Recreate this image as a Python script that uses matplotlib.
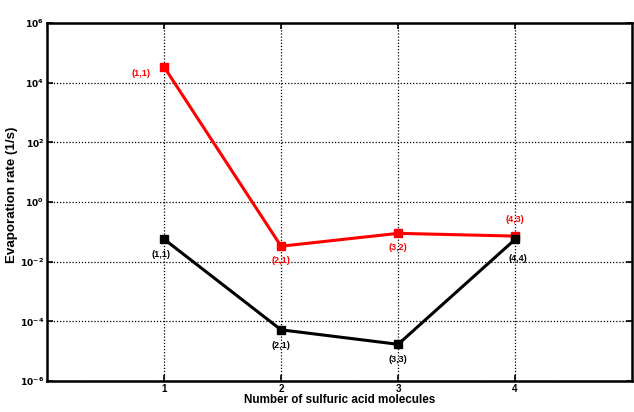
import matplotlib
matplotlib.use("Agg")
import matplotlib.pyplot as plt
from matplotlib.ticker import NullLocator, FixedFormatter

plt.rcParams["font.family"] = ["Liberation Sans", "DejaVu Sans"]
plt.rcParams["font.weight"] = "bold"

# Evaporation rates (1/s) versus number of sulfuric acid molecules
n_acid = [1, 2, 3, 4]
rate_red = [3.4e4, 0.033, 0.089, 0.072]
labels_red = ["(1,1)", "(2,1)", "(3,2)", "(4,3)"]
rate_black = [0.057, 5.2e-5, 1.7e-5, 0.056]
labels_black = ["(1,1)", "(2,1)", "(3,3)", "(4,4)"]

ytick_vals = [1e-6, 1e-4, 1e-2, 1e0, 1e2, 1e4, 1e6]
ytick_labels = [r"$\mathbf{10^{-6}}$", r"$\mathbf{10^{-4}}$", r"$\mathbf{10^{-2}}$",
                r"$\mathbf{10^{0}}$", r"$\mathbf{10^{2}}$", r"$\mathbf{10^{4}}$",
                r"$\mathbf{10^{6}}$"]

fig = plt.figure(figsize=(6.34, 4.12), dpi=100)
ax = fig.add_axes([0.0741, 0.0752, 0.923, 0.869])

ax.plot(n_acid, rate_red, color="red", lw=2.2, marker="s", ms=5.5, zorder=4)
ax.plot(n_acid, rate_black, color="black", lw=2.2, marker="s", ms=5.5, zorder=4)

# point labels: (dx, dy) offsets in points
red_offsets = [(-10, -5), (0, -10), (0, -10), (0, 12)]
red_ha = ["right", "center", "center", "center"]
for x, y, s, (dx, dy), ha in zip(n_acid, rate_red, labels_red, red_offsets, red_ha):
    ax.annotate(s, (x, y), xytext=(dx, dy), textcoords="offset points",
                ha=ha, va="center", color="red", fontsize=6.5, fontweight="bold")

black_offsets = [(-2, -11), (0, -11), (0, -11), (2, -14)]
for x, y, s, (dx, dy) in zip(n_acid, rate_black, labels_black, black_offsets):
    ax.annotate(s, (x, y), xytext=(dx, dy), textcoords="offset points",
                ha="center", va="center", color="black", fontsize=6.5, fontweight="bold")

ax.set_yscale("log")
ax.set_ylim(1e-6, 1e6)
ax.set_xlim(0, 5)
ax.set_yticks(ytick_vals)
ax.yaxis.set_major_formatter(FixedFormatter(ytick_labels))
ax.yaxis.set_minor_locator(NullLocator())
ax.set_xticks(n_acid)
ax.set_xticklabels([str(v) for v in n_acid])

ax.grid(True, which="major", color="black", linestyle=(0, (1, 1.5)), linewidth=0.9)
ax.tick_params(direction="in", length=4, width=1.2, labelsize=7, top=True, right=True, pad=2)
ax.tick_params(axis="y", labelsize=6.6)
for sp in ax.spines.values():
    sp.set_linewidth(1.8)

ax.set_xlabel("Number of sulfuric acid molecules", fontsize=8.4, fontweight="bold", labelpad=0)
ax.set_ylabel("Evaporation rate (1/s)", fontsize=9.6, fontweight="bold")
ax.yaxis.set_label_coords(-0.049, 0.52)

fig.savefig("out.png", dpi=100)
